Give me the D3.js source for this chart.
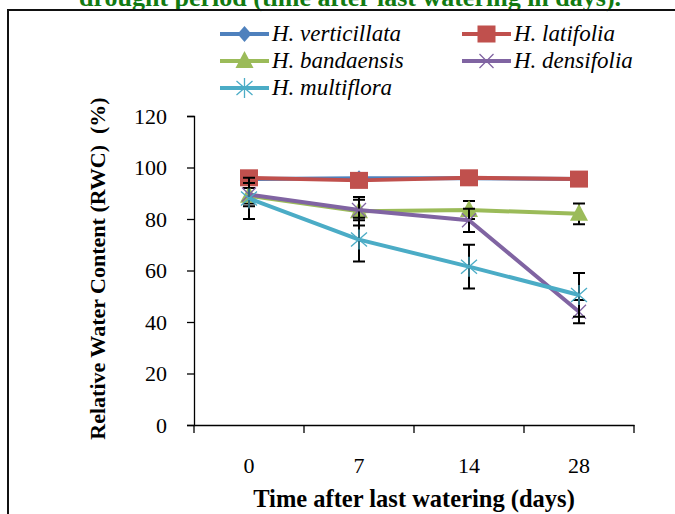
<!DOCTYPE html>
<html>
<head>
<meta charset="utf-8">
<script src="https://cdn.jsdelivr.net/npm/d3@7"></script>
<style>
  body { margin: 0; background: #fff; }
  svg { display: block; }
  text { font-family: "Liberation Serif", "DejaVu Serif", "Times New Roman", serif; }
</style>
</head>
<body>
<div id="chart"></div>
<script>
const W = 675, H = 514;
const MARGIN = { TOP: 116, LEFT: 194, RIGHT: 41, BOTTOM: 89 };
const SERIF = "'Liberation Serif', 'DejaVu Serif', serif";

// data
const days = ["0", "7", "14", "28"];
const yTicks = [0, 20, 40, 60, 80, 100, 120];
const names = ["H. verticillata", "H. latifolia", "H. bandaensis", "H. densifolia", "H. multiflora"];
const colors = ["#4F81BD", "#C0504D", "#9BBB59", "#8064A2", "#4BACC6"];
const verticillata = [95.5, 95.8, 95.8, 95.5];
const latifolia = [96, 95, 96, 95.5];
const bandaensis = [89, 83, 83.5, 82];
const densifolia = [89.5, 83.5, 79.5, 44];
const multiflora = [88, 72, 61.5, 50.5];
const verticillataErr = [1, 1, 1, 1];
const latifoliaErr = [1, 1, 1, 1];
const bandaensisErr = [3, 5.5, 3.5, 4];
const densifoliaErr = [4.5, 4, 4.5, 4.5];
const multifloraErr = [8, 8.5, 8.5, 8.5];

const series = [
  { name: names[0], color: colors[0], values: verticillata, err: verticillataErr, marker: "diamond" },
  { name: names[1], color: colors[1], values: latifolia, err: latifoliaErr, marker: "square" },
  { name: names[2], color: colors[2], values: bandaensis, err: bandaensisErr, marker: "triangle" },
  { name: names[3], color: colors[3], values: densifolia, err: densifoliaErr, marker: "x" },
  { name: names[4], color: colors[4], values: multiflora, err: multifloraErr, marker: "star" },
];

const svg = d3.select("#chart").append("svg")
  .attr("width", W).attr("height", H);

// caption above the frame, cut off at the top as in the figure
svg.append("text")
  .attr("x", 350).attr("y", 6)
  .attr("text-anchor", "middle")
  .attr("fill", "#127a12")
  .style("font-family", SERIF)
  .style("font-weight", "bold")
  .style("font-size", "26px")
  .text("drought period (time after last watering in days).");

// frame
svg.append("path")
  .attr("d", `M7,10H${W}M8,10V${H}`)
  .attr("stroke", "#111").attr("stroke-width", 2).attr("fill", "none");

const x = d3.scaleBand().domain(days).range([MARGIN.LEFT, W - MARGIN.RIGHT]);
const y = d3.scaleLinear().domain([0, 120]).range([H - MARGIN.BOTTOM, MARGIN.TOP]);

// y axis
const gy = svg.append("g")
  .attr("transform", `translate(${MARGIN.LEFT},0)`)
  .call(d3.axisLeft(y).tickValues(yTicks).tickSize(7).tickPadding(20));
gy.select(".domain").attr("stroke", "#000").attr("stroke-width", 1.3);
gy.selectAll(".tick line").attr("stroke", "#000").attr("stroke-width", 1.3);
gy.selectAll("text").style("font-size", "22px").attr("fill", "#000")
  .style("font-family", SERIF);

// x axis (labels centred, tick marks between categories)
const gx = svg.append("g")
  .attr("transform", `translate(0,${y(0)})`)
  .call(d3.axisBottom(x).tickSize(0).tickPadding(32).tickSizeOuter(0));
gx.select(".domain").attr("stroke", "#000").attr("stroke-width", 1.3);
gx.selectAll("text").style("font-size", "22px").attr("fill", "#000")
  .style("font-family", SERIF);
gx.selectAll(".bound")
  .data(days.map(d => x(d)).concat([x.range()[1]]))
  .join("line")
  .attr("class", "bound")
  .attr("x1", d => d).attr("x2", d => d)
  .attr("y1", 0).attr("y2", 8)
  .attr("stroke", "#000").attr("stroke-width", 1.3);

// axis titles
svg.append("text")
  .attr("x", (MARGIN.LEFT + W - MARGIN.RIGHT) / 2).attr("y", 507)
  .attr("text-anchor", "middle")
  .style("font-family", SERIF)
  .style("font-weight", "bold").style("font-size", "24.5px")
  .text("Time after last watering (days)");

svg.append("text")
  .attr("transform", `translate(105,${(y(0) + y(120)) / 2 - 2}) rotate(-90)`)
  .attr("text-anchor", "middle")
  .style("font-family", SERIF)
  .style("font-weight", "bold").style("font-size", "22px")
  .style("white-space", "pre")
  .text("Relative Water Content (RWC)  (%)");

function drawMarker(g, type, color, cx, cy) {
  if (type === "diamond") {
    g.append("path").attr("d", `M${cx},${cy - 8}L${cx + 7},${cy}L${cx},${cy + 8}L${cx - 7},${cy}Z`)
      .attr("fill", color);
  } else if (type === "square") {
    g.append("rect").attr("x", cx - 9).attr("y", cy - 8.5).attr("width", 18).attr("height", 17)
      .attr("fill", color);
  } else if (type === "triangle") {
    g.append("path").attr("d", `M${cx},${cy - 10}L${cx + 9},${cy + 7}L${cx - 9},${cy + 7}Z`)
      .attr("fill", color);
  } else if (type === "x") {
    g.append("path").attr("d", `M${cx - 7},${cy - 7}L${cx + 7},${cy + 7}M${cx - 7},${cy + 7}L${cx + 7},${cy - 7}`)
      .attr("stroke", color).attr("stroke-width", 1.3).attr("fill", "none");
  } else if (type === "star") {
    g.append("path").attr("d", `M${cx - 8},${cy - 7}L${cx + 8},${cy + 7}M${cx - 8},${cy + 7}L${cx + 8},${cy - 7}M${cx},${cy - 10}V${cy + 10}`)
      .attr("stroke", color).attr("stroke-width", 1.3).attr("fill", "none");
  }
}

const line = d3.line()
  .x((d, i) => x(days[i]) + x.bandwidth() / 2)
  .y(d => y(d));

const plot = svg.append("g");
series.forEach(s => {
  const g = plot.append("g");
  g.append("path")
    .datum(s.values)
    .attr("d", line)
    .attr("fill", "none")
    .attr("stroke", s.color)
    .attr("stroke-width", 4)
    .attr("stroke-linejoin", "round");
  s.values.forEach((v, i) => {
    const cx = x(days[i]) + x.bandwidth() / 2;
    const hi = y(v + s.err[i]), lo = y(v - s.err[i]);
    g.append("path")
      .attr("d", `M${cx},${hi}V${lo}M${cx - 6},${hi}H${cx + 6}M${cx - 6},${lo}H${cx + 6}`)
      .attr("stroke", "#000").attr("stroke-width", 2).attr("fill", "none");
  });
  s.values.forEach((v, i) => {
    drawMarker(g, s.marker, s.color, x(days[i]) + x.bandwidth() / 2, y(v));
  });
});

// legend
const legendPos = [
  { x: 220, y: 34 }, { x: 462, y: 34 },
  { x: 220, y: 61 }, { x: 462, y: 61 },
  { x: 220, y: 88 },
];
series.forEach((s, i) => {
  const p = legendPos[i];
  const g = svg.append("g");
  g.append("line")
    .attr("x1", p.x).attr("x2", p.x + 49)
    .attr("y1", p.y).attr("y2", p.y)
    .attr("stroke", s.color).attr("stroke-width", 4);
  drawMarker(g, s.marker, s.color, p.x + 24.5, p.y);
  g.append("text")
    .attr("x", p.x + 52).attr("y", p.y + 7)
    .style("font-family", SERIF)
    .style("font-style", "italic").style("font-size", "23px")
    .text(s.name);
});
</script>
</body>
</html>
